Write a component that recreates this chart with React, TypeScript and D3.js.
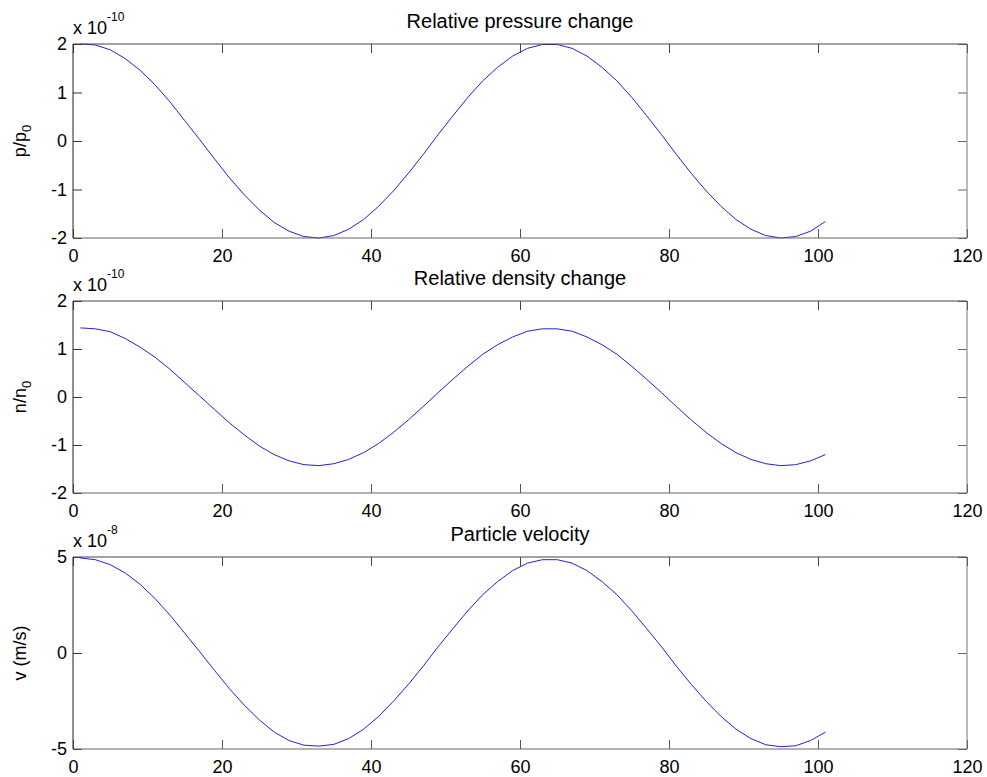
import React, { useRef, useEffect } from 'react';
import * as d3 from 'd3';

// sample positions (every 2nd index)
const sampleX = [1, 3, 5, 7, 9, 11, 13, 15, 17, 19, 21, 23, 25, 27, 29, 31, 33, 35, 37, 39, 41, 43, 45, 47, 49, 51,
    53, 55, 57, 59, 61, 63, 65, 67, 69, 71, 73, 75, 77, 79, 81, 83, 85, 87, 89, 91, 93, 95, 97, 99, 101];

// p/p0, units of 1e-10
const pressure = [2.0, 1.98, 1.88, 1.7, 1.46, 1.16, 0.81, 0.42, 0.03, -0.37, -0.76, -1.11, -1.42, -1.68, -1.86, -1.97,
    -2.0, -1.95, -1.82, -1.62, -1.35, -1.03, -0.67, -0.28, 0.13, 0.52, 0.9, 1.24, 1.52, 1.75, 1.91, 1.99, 1.99, 1.91,
    1.75, 1.52, 1.24, 0.9, 0.52, 0.13, -0.28, -0.67, -1.03, -1.35, -1.62, -1.82, -1.95, -2.0, -1.97, -1.86, -1.66];

// n/n0, units of 1e-10
const density = [1.44, 1.42, 1.36, 1.22, 1.04, 0.83, 0.58, 0.3, 0.02, -0.26, -0.54, -0.79, -1.02, -1.2, -1.33, -1.41,
    -1.43, -1.39, -1.3, -1.16, -0.97, -0.74, -0.48, -0.2, 0.09, 0.37, 0.64, 0.89, 1.09, 1.25, 1.37, 1.42, 1.42, 1.37,
    1.25, 1.09, 0.89, 0.64, 0.37, 0.09, -0.2, -0.48, -0.74, -0.97, -1.16, -1.3, -1.39, -1.43, -1.41, -1.33, -1.2];

// v (m/s), units of 1e-8
const velocity = [4.95, 4.86, 4.6, 4.17, 3.58, 2.84, 1.98, 1.03, 0.07, -0.91, -1.86, -2.72, -3.48, -4.12, -4.56, -4.8,
    -4.85, -4.76, -4.46, -3.97, -3.31, -2.52, -1.64, -0.69, 0.32, 1.27, 2.2, 3.04, 3.72, 4.29, 4.68, 4.86, 4.86, 4.68,
    4.29, 3.72, 3.04, 2.2, 1.27, 0.32, -0.69, -1.64, -2.52, -3.31, -3.97, -4.46, -4.78, -4.88, -4.83, -4.56, -4.12];

const xTicks = [0, 20, 40, 60, 80, 100, 120];
const ratioTicks = [-2, -1, 0, 1, 2];
const velocityTicks = [-5, 0, 5];

const titles = ['Relative pressure change', 'Relative density change', 'Particle velocity'];
const exponents = ['-10', '-10', '-8'];

const App = () => {
    const ref = useRef<SVGSVGElement>(null);

    useEffect(() => {
        const svg = d3.select(ref.current);
        svg.selectAll('*').remove();

        const left = 73, right = 967;
        const font = '"Liberation Sans", Arial, sans-serif';
        const panels = [
            { top: 44, bottom: 238, values: pressure, ticks: ratioTicks, label: ['p/p', '0'] },
            { top: 301, bottom: 493, values: density, ticks: ratioTicks, label: ['n/n', '0'] },
            { top: 557, bottom: 749, values: velocity, ticks: velocityTicks, label: ['v (m/s)', ''] },
        ];

        const xScale = d3.scaleLinear().domain([0, 120]).range([left, right]);
        const plain = d => String(d); // keep ascii hyphen like the original

        panels.forEach((p, i) => {
            const yMax = d3.max(p.ticks)!;
            const yScale = d3.scaleLinear().domain([-yMax, yMax]).range([p.bottom, p.top]);
            const g = svg.append('g');
            const w = right - left, h = p.bottom - p.top;

            // --- curve ---
            const line = d3.line<number>()
                .x((d, j) => xScale(sampleX[j]))
                .y(d => yScale(d));
            g.append('path')
                .datum(p.values)
                .attr('fill', 'none')
                .attr('stroke', '#2222cc')
                .attr('stroke-width', 1)
                .attr('d', line);

            const style = (sel, color) => {
                sel.select('.domain').remove();
                sel.selectAll('.tick line').attr('stroke', color);
                sel.selectAll('text')
                    .attr('fill', '#000')
                    .style('font-family', font)
                    .style('font-size', '18px');
            };

            // --- axes, ticks pointing inward ---
            g.append('g').attr('transform', `translate(0,${p.bottom})`)
                .call(d3.axisBottom(xScale).tickValues(xTicks).tickSize(-9).tickPadding(11).tickFormat(plain))
                .call(s => style(s, '#555'));
            g.append('g').attr('transform', `translate(0,${p.top})`)
                .call(d3.axisTop(xScale).tickValues(xTicks).tickSize(-9).tickFormat(() => ''))
                .call(s => style(s, '#444'));
            g.append('g').attr('transform', `translate(${left},0)`)
                .call(d3.axisLeft(yScale).tickValues(p.ticks).tickSize(-9).tickPadding(6).tickFormat(plain))
                .call(s => style(s, '#333'));
            g.append('g').attr('transform', `translate(${right},0)`)
                .call(d3.axisRight(yScale).tickValues(p.ticks).tickSize(-9).tickFormat(() => ''))
                .call(s => style(s, '#666'));

            // box edges
            g.append('line').attr('x1', left).attr('x2', right).attr('y1', p.top).attr('y2', p.top).attr('stroke', '#444');
            g.append('line').attr('x1', left).attr('x2', right).attr('y1', p.bottom).attr('y2', p.bottom).attr('stroke', '#666');
            g.append('line').attr('x1', left).attr('x2', left).attr('y1', p.top).attr('y2', p.bottom).attr('stroke', '#222');
            g.append('line').attr('x1', right).attr('x2', right).attr('y1', p.top).attr('y2', p.bottom).attr('stroke', '#777');

            // title
            g.append('text')
                .attr('x', left + w / 2)
                .attr('y', p.top - 16)
                .attr('text-anchor', 'middle')
                .style('font-family', font)
                .style('font-size', '20px')
                .text(titles[i]);

            // exponent "x 10^n"
            const ex = g.append('text')
                .attr('x', left)
                .attr('y', p.top - 10)
                .style('font-family', font)
                .style('font-size', '18px');
            ex.append('tspan').text('x 10');
            ex.append('tspan').attr('dy', -13).style('font-size', '12px').text(exponents[i]);

            // y label
            const yl = g.append('text')
                .attr('transform', `translate(${left - 47},${p.top + h / 2}) rotate(-90)`)
                .attr('text-anchor', 'middle')
                .style('font-family', font)
                .style('font-size', '18px');
            yl.append('tspan').text(p.label[0]);
            if (p.label[1]) {
                yl.append('tspan').attr('dy', 5).style('font-size', '13px').text(p.label[1]);
            }
        });
    }, []);

    return (
        <svg ref={ref} width={987} height={777}
            style={{ position: 'absolute', left: 0, top: 0, background: '#fff' }}></svg>
    );
};

export default App;
